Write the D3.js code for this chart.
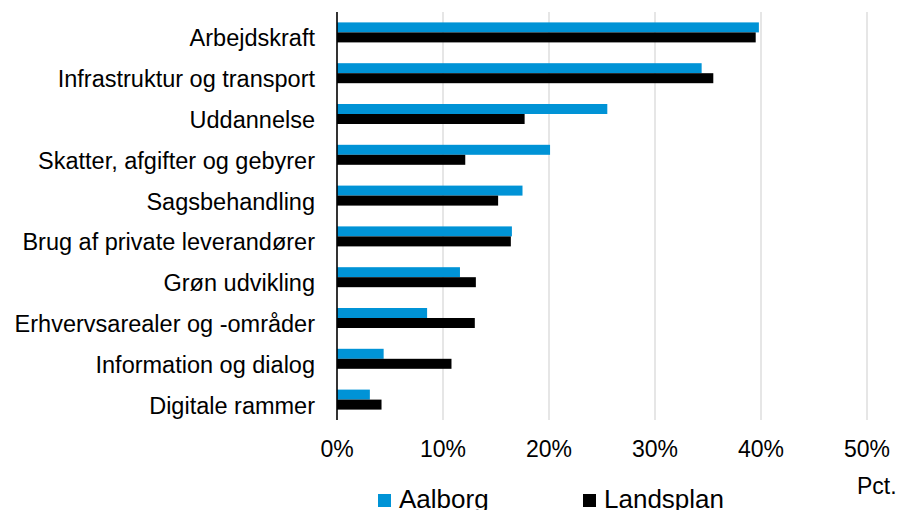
<!DOCTYPE html>
<html><head><meta charset="utf-8">
<script src="https://cdn.jsdelivr.net/npm/d3@7"></script>
<style>
html,body{margin:0;padding:0;background:#fff;}
svg{display:block;font-family:"Liberation Sans",Arial,sans-serif;}
</style></head>
<body>
<svg id="chart" width="899" height="510"></svg>
<script>
const categories = ["Arbejdskraft","Infrastruktur og transport","Uddannelse","Skatter, afgifter og gebyrer","Sagsbehandling","Brug af private leverandører","Grøn udvikling","Erhvervsarealer og -områder","Information og dialog","Digitale rammer"];
const aalborg = [39.8, 34.4, 25.5, 20.1, 17.5, 16.5, 11.6, 8.5, 4.4, 3.1];
const landsplan = [39.5, 35.5, 17.7, 12.1, 15.2, 16.4, 13.1, 13.0, 10.8, 4.2];
const seriesNames = ["Aalborg","Landsplan"];
const xTicks = [0,10,20,30,40,50];
const axisTitle = "Pct.";

const colors = ["#0093D6","#000000"];
const svg = d3.select("#chart");
const x = d3.scaleLinear().domain([0,50]).range([337,867]);
const y = d3.scaleBand().domain(categories).range([12,420]).padding(0);
const barH = 10;

// gridlines
svg.append("g").selectAll("line").data(xTicks.filter(d=>d>0)).join("line")
  .attr("x1",d=>x(d)).attr("x2",d=>x(d)).attr("y1",12).attr("y2",420)
  .attr("stroke","#D9D9D9").attr("stroke-width",1.3);

// bars
const series = [aalborg, landsplan];
series.forEach((vals,si)=>{
  svg.append("g").selectAll("rect").data(categories).join("rect")
    .attr("x",x(0))
    .attr("y",d=>y(d)+y.bandwidth()/2 - barH + si*barH)
    .attr("width",(d,i)=>x(vals[i])-x(0))
    .attr("height",barH)
    .attr("fill",colors[si]);
});

// y axis line
svg.append("line").attr("x1",x(0)).attr("x2",x(0)).attr("y1",12).attr("y2",420)
  .attr("stroke","#000").attr("stroke-width",1.6);

// category labels
svg.append("g").selectAll("text").data(categories).join("text")
  .attr("x",315).attr("y",d=>y(d)+y.bandwidth()/2+14)
  .attr("text-anchor","end").attr("font-size","23.5px").attr("fill","#000")
  .text(d=>d);

// x tick labels
svg.append("g").selectAll("text").data(xTicks).join("text")
  .attr("x",d=>x(d)).attr("y",457)
  .attr("text-anchor","middle").attr("font-size","23px").attr("fill","#000")
  .text(d=>d+"%");

// axis title
svg.append("text").attr("x",857).attr("y",494).attr("font-size","23px").attr("fill","#000").text(axisTitle);

// legend
const legX = [378, 583];
seriesNames.forEach((n,i)=>{
  svg.append("rect").attr("x",legX[i]).attr("y",494).attr("width",13).attr("height",13).attr("fill",colors[i]);
  svg.append("text").attr("x",legX[i]+21).attr("y",508).attr("font-size","26px").attr("fill","#000").text(n);
});
</script>
</body></html>
